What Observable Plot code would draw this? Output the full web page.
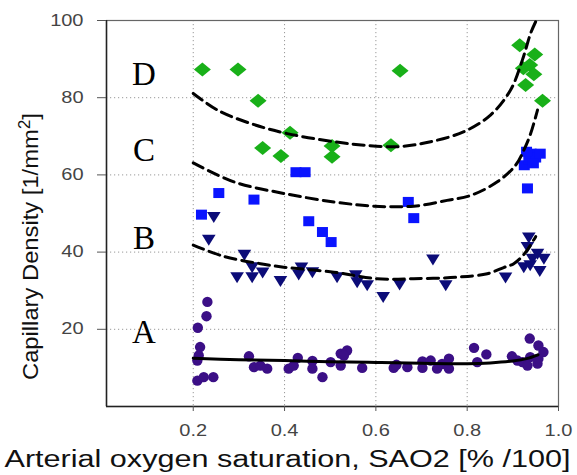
<!DOCTYPE html>
<html>
<head>
<meta charset="utf-8">
<script src="https://cdn.jsdelivr.net/npm/d3@7"></script>
<script src="https://cdn.jsdelivr.net/npm/@observablehq/plot@0.6"></script>
<style>
  html, body { margin: 0; padding: 0; background: #fff; }
</style>
</head>
<body>
<div id="chart"></div>
<script>
// ---- data ----
const groupLabels = ["A", "B", "C", "D"];
const groupLabelX = [0.092, 0.092, 0.092, 0.092];
const groupLabelY = [19.3, 43.6, 66.3, 86.0];

const aX = [0.231,0.229,0.210,0.215,0.212,0.209,0.209,0.223,0.244,0.322,0.333,0.347,0.362,0.409,0.420,0.429,0.461,0.461,0.483,0.501,0.523,0.523,0.537,0.530,0.570,0.639,0.645,0.669,0.702,0.702,0.720,0.734,0.745,0.760,0.760,0.815,0.822,0.842,0.898,0.910,0.921,0.937,0.956,0.967,0.938,0.932,0.954,0.956];
const aY = [27.1,23.4,20.4,15.4,13.2,11.9,6.7,7.6,7.6,13.0,10.2,10.6,9.8,9.8,10.6,12.6,11.8,9.8,7.6,11.5,13.7,10.6,14.5,13.2,10.0,10.0,10.8,10.2,10.0,11.7,11.9,9.8,11.0,12.4,9.8,15.2,11.5,13.5,13.0,11.9,11.5,17.6,15.8,14.1,12.8,10.6,11.1,12.4];

const bX = [0.245,0.234,0.312,0.329,0.296,0.329,0.352,0.391,0.431,0.437,0.461,0.515,0.556,0.559,0.581,0.616,0.652,0.725,0.753,0.884,0.935,0.932,0.954,0.968,0.943,0.924,0.938,0.959];
const bY = [49.1,43.2,39.3,36.1,33.5,33.5,34.7,32.5,34.2,36.0,34.8,33.5,34.0,32.2,31.4,28.4,31.6,38.1,31.4,33.4,43.8,41.3,39.6,38.3,38.3,36.1,36.6,35.1];

const cX = [0.425,0.445,0.256,0.333,0.218,0.453,0.483,0.502,0.671,0.683,0.932,0.925,0.935,0.940,0.950,0.960,0.930,0.945];
const cY = [60.7,60.7,55.3,53.6,49.7,48.0,45.2,42.6,53.0,48.8,56.5,62.5,64.0,65.5,64.5,65.5,66.0,63.0];

const dX = [0.220,0.298,0.342,0.412,0.352,0.392,0.504,0.504,0.653,0.633,0.915,0.948,0.923,0.937,0.946,0.928,0.965];
const dY = [87.3,87.3,79.2,70.9,67.0,64.9,67.5,64.7,87.0,67.7,93.6,91.2,87.6,88.5,86.1,83.3,79.2];

// fitted curves as drawn
const fitAX = [0.2,0.3,0.4,0.5,0.6,0.7,0.8,0.85,0.9,0.93,0.955];
const fitAY = [12.5,12.1,11.9,11.6,11.4,11.2,11.1,11.3,11.8,12.4,13.4];
const fitBX = [0.2,0.267,0.347,0.398,0.508,0.603,0.683,0.778,0.844,0.88,0.902,0.925,0.95];
const fitBY = [41.8,38.9,37.0,36.1,34.8,33.1,33.1,33.5,34.4,36.0,37.0,39.5,44.0];
const fitCX = [0.2,0.289,0.398,0.508,0.596,0.683,0.756,0.808,0.866,0.906,0.924,0.939,0.954];
const fitCY = [63.1,58.2,55.2,53.0,51.9,51.9,53.4,54.7,58.2,62.5,66.4,70.7,76.8];
const fitDX = [0.2,0.253,0.326,0.406,0.508,0.574,0.647,0.720,0.793,0.851,0.895,0.921,0.939,0.950];
const fitDY = [81.1,76.8,73.3,70.7,68.6,67.7,67.3,68.6,71.2,75.5,82.0,89.8,96.7,99.7];

const xTicks = [0.2, 0.4, 0.6, 0.8, 1.0];
const yTicks = [20, 40, 60, 80, 100];
const xTitle = "Arterial oxygen saturation, SAO2 [% /100]";
const yTitleMain = "Capillary Density [1/mm";
const yTitleSup = "2";
const yTitleEnd = "]";

// ---- build tables ----
const pts = (xs, ys) => xs.map((x, i) => ({x, y: ys[i]}));
const A = pts(aX, aY), B = pts(bX, bY), C = pts(cX, cY), D = pts(dX, dY);
const fA = pts(fitAX, fitAY), fB = pts(fitBX, fitBY), fC = pts(fitCX, fitCY), fD = pts(fitDX, fitDY);
const labels = groupLabels.map((t, i) => ({t, x: groupLabelX[i], y: groupLabelY[i]}));

// custom marker shapes
const diamondWide = {draw(ctx) { ctx.moveTo(-8.5, 0); ctx.lineTo(0, -7); ctx.lineTo(8.5, 0); ctx.lineTo(0, 7); ctx.closePath(); }};
const squareBox = {draw(ctx) { ctx.rect(-5.5, -5, 11, 10); }};
const triDown = {draw(ctx) { ctx.moveTo(-6.8, -5); ctx.lineTo(6.8, -5); ctx.lineTo(0, 6); ctx.closePath(); }};

const dash = {stroke: "#000", strokeWidth: 3, strokeDasharray: "11,6", curve: "catmull-rom", clip: true};

const chart = Plot.plot({
  width: 577,
  height: 475,
  marginLeft: 106,
  marginRight: 19,
  marginTop: 20,
  marginBottom: 69,
  style: {fontFamily: "'Liberation Sans', Arial, sans-serif", background: "#fff"},
  x: {domain: [0.01, 1.0]},
  y: {domain: [0, 100]},
  marks: [
    Plot.gridX(xTicks.slice(0, 4), {stroke: "#999", strokeOpacity: 1, strokeDasharray: "1.2,2.8", strokeWidth: 1}),
    Plot.gridY(yTicks.slice(0, 4), {stroke: "#999", strokeOpacity: 1, strokeDasharray: "1.2,2.8", strokeWidth: 1}),
    Plot.frame({stroke: "#666", strokeWidth: 1.2}),
    Plot.ruleX([0.01], {stroke: "#222", strokeWidth: 1.5}),
    Plot.ruleY([0], {stroke: "#222", strokeWidth: 1.5}),
    Plot.axisX(xTicks, {tickSize: 5, tickPadding: 13, fontSize: 16, tickFormat: d => d.toFixed(1), label: null, fill: "#444", stroke: "#555", className: "stretch-tick"}),
    Plot.axisY(yTicks, {tickSize: 9, tickPadding: 14, fontSize: 16, label: null, fill: "#444", stroke: "#555", className: "stretch-tick"}),
    Plot.dot(A, {x: "x", y: "y", r: 5.2, fill: "#3b0f86", stroke: "none"}),
    Plot.dot(B, {x: "x", y: "y", symbol: triDown, r: 5, fill: "#0c0c78", stroke: "none"}),
    Plot.dot(C, {x: "x", y: "y", symbol: squareBox, r: 5, fill: "#0a14ff", stroke: "none"}),
    Plot.dot(D, {x: "x", y: "y", symbol: diamondWide, r: 5, fill: "#19b019", stroke: "none"}),
    Plot.line(fA, {x: "x", y: "y", stroke: "#000", strokeWidth: 3, curve: "catmull-rom"}),
    Plot.line(fB, {x: "x", y: "y", ...dash}),
    Plot.line(fC, {x: "x", y: "y", ...dash}),
    Plot.line(fD, {x: "x", y: "y", ...dash}),
    Plot.text(labels, {x: "x", y: "y", text: "t", fontFamily: "'Liberation Serif', 'Times New Roman', serif", fontSize: 33, fill: "#000"}),
    Plot.text([xTitle], {frameAnchor: "bottom", textAnchor: "middle", lineAnchor: "middle", dx: -45, dy: 53, fontSize: 23, fill: "#111", className: "x-title"}),
    Plot.text([yTitleMain + yTitleSup + yTitleEnd], {frameAnchor: "left", textAnchor: "middle", lineAnchor: "middle", rotate: -90, dx: -76, dy: 33, fontSize: 22, fill: "#111", className: "y-title"})
  ]
});
document.getElementById("chart").appendChild(chart);

// superscript the "2" of mm2 in the y title
chart.querySelectorAll(".y-title text").forEach(t => {
  t.textContent = "";
  const ns = "http://www.w3.org/2000/svg";
  const a = document.createElementNS(ns, "tspan"); a.textContent = yTitleMain;
  const s = document.createElementNS(ns, "tspan"); s.textContent = yTitleSup;
  s.setAttribute("font-size", "16"); s.setAttribute("dy", "-8");
  const e = document.createElementNS(ns, "tspan"); e.textContent = yTitleEnd;
  e.setAttribute("dy", "8");
  t.append(a, s, e);
});

// the reference's lettering is horizontally stretched; reproduce with textLength
function stretch(sel, factorOrLen, absolute) {
  chart.querySelectorAll(sel).forEach(t => {
    const len = t.getComputedTextLength();
    t.setAttribute("textLength", absolute ? factorOrLen : len * factorOrLen);
    t.setAttribute("lengthAdjust", "spacingAndGlyphs");
  });
}
stretch(".stretch-tick text", 1.25);
stretch(".x-title text", 566, true);
stretch(".y-title text", 267, true);
</script>
</body>
</html>
